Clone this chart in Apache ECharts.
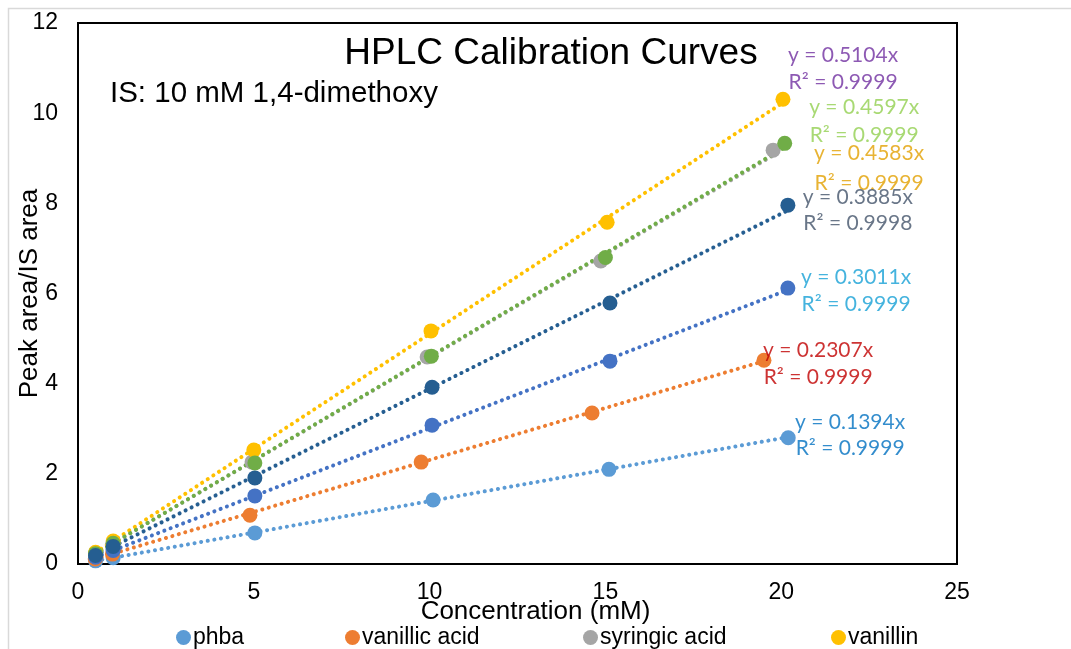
<!DOCTYPE html>
<html>
<head>
<meta charset="utf-8">
<script src="https://cdn.jsdelivr.net/npm/echarts@6/dist/echarts.min.js"></script>
<style>html,body{margin:0;padding:0;background:#fff}#c{width:1071px;height:649px}</style>
</head>
<body>
<div id="c"></div>
<script>
// ---- data ----
const seriesNames = ['phba', 'vanillic acid', 'syringic acid', 'vanillin', 'Series5', 'Series6', 'Series7'];
const phbaX = [0.5, 1, 5.03, 10.1, 15.1, 20.2];
const phbaY = [0.07, 0.14, 0.69, 1.42, 2.1, 2.8];
const vanillicX = [0.49, 0.98, 4.89, 9.76, 14.62, 19.51];
const vanillicY = [0.11, 0.22, 1.08, 2.26, 3.35, 4.52];
const syringicX = [0.5, 0.99, 4.95, 9.93, 14.87, 19.77];
const syringicY = [0.23, 0.46, 2.26, 4.59, 6.72, 9.18];
const vanillinX = [0.5, 1, 5.0, 10.04, 15.05, 20.05];
const vanillinY = [0.26, 0.51, 2.53, 5.17, 7.58, 10.31];
const s5X = [0.5, 1, 5.03, 10.07, 15.13, 20.19];
const s5Y = [0.15, 0.3, 1.51, 3.08, 4.5, 6.12];
const s6X = [0.5, 1, 5.03, 10.05, 15.0, 20.1];
const s6Y = [0.23, 0.46, 2.24, 4.61, 6.8, 9.33];
const s7X = [0.5, 1, 5.03, 10.07, 15.13, 20.19];
const s7Y = [0.19, 0.39, 1.91, 3.92, 5.79, 7.96];
const trendSlopes = [0.1394, 0.2307, 0.4583, 0.5104, 0.3011, 0.4597, 0.3885];
const eqLabels = ['y = 0.5104x', 'y = 0.4597x', 'y = 0.4583x', 'y = 0.3885x', 'y = 0.3011x', 'y = 0.2307x', 'y = 0.1394x'];
const r2Labels = ['R² = 0.9999', 'R² = 0.9999', 'R² = 0.9999', 'R² = 0.9998', 'R² = 0.9999', 'R² = 0.9999', 'R² = 0.9999'];
const xTicks = [0, 5, 10, 15, 20, 25];
const yTicks = [0, 2, 4, 6, 8, 10, 12];

// ---- styling / layout ----
const colors = ['#5B9BD5', '#ED7D31', '#A5A5A5', '#FFC000', '#4472C4', '#70AD47', '#255E91'];
const labelColors = ['#7030A0', '#92D050', '#E2A000', '#44546A', '#17A0D6', '#C00000', '#0070C0'];
// annotation anchor positions in data coords: [x, yEq, yR2]
const labelPos = [[21.76, 11.28, 10.68], [22.36, 10.13, 9.51], [22.5, 9.11, 8.45], [22.18, 8.14, 7.56],
                  [22.13, 6.36, 5.76], [21.05, 4.74, 4.15], [21.96, 3.15, 2.57]];
const legendLeft = [171, 340, 578, 826];

const xs = [phbaX, vanillicX, syringicX, vanillinX, s5X, s6X, s7X];
const ys = [phbaY, vanillicY, syringicY, vanillinY, s5Y, s6Y, s7Y];

const series = [];
// trendlines
xs.forEach((x, i) => {
  const x0 = Math.min(...x), x1 = Math.max(...x);
  series.push({
    name: seriesNames[i] + ' trend', type: 'line', silent: true, showSymbol: false, symbol: 'none', z: 1,
    data: [[x0, trendSlopes[i] * x0], [x1, trendSlopes[i] * x1]],
    lineStyle: { color: colors[i], width: 4, type: [0.1, 6.6], cap: 'round' },
    animation: false
  });
});
// points
xs.forEach((x, i) => {
  series.push({
    name: seriesNames[i], type: 'scatter', symbol: 'circle', symbolSize: 15, z: 3,
    itemStyle: { color: colors[i], opacity: 1 },
    data: x.map((v, k) => [v, ys[i][k]]),
    animation: false
  });
});
// equation labels
const annData = [];
eqLabels.forEach((t, i) => {
  annData.push({ value: [labelPos[i][0], labelPos[i][1]], name: t, label: { color: labelColors[i] } });
  annData.push({ value: [labelPos[i][0], labelPos[i][2]], name: r2Labels[i], label: { color: labelColors[i] } });
});
series.push({
  name: 'annotations', type: 'scatter', symbolSize: 1, silent: true, z: 5,
  itemStyle: { color: 'rgba(0,0,0,0)' },
  label: { show: true, position: 'inside', formatter: p => p.name, fontFamily: 'Lato', fontSize: 21 },
  data: annData, animation: false
});

const legends = seriesNames.slice(0, 4).map((n, i) => ({
  data: [{ name: n, icon: 'circle' }], left: legendLeft[i], top: 621, itemWidth: 15, itemHeight: 15, itemGap: 0,
  textStyle: { fontFamily: 'Liberation Sans', fontSize: 23, color: '#000', padding: [0, 0, 0, -3] }, selectedMode: false
}));

const chart = echarts.init(document.getElementById('c'));
chart.setOption({
  animation: false,
  backgroundColor: '#fff',
  color: colors,
  graphic: [{ type: 'rect', shape: { x: 8.5, y: 8.5, width: 1200, height: 800 }, style: { fill: 'none', stroke: '#d9d9d9', lineWidth: 1.5 }, z: -1 }],
  title: [
    { text: 'HPLC Calibration Curves', left: 546, textAlign: 'center', top: 30, textStyle: { fontFamily: 'Liberation Sans', fontSize: 37, fontWeight: 'normal', color: '#000' } },
    { text: 'IS: 10 mM 1,4-dimethoxy', left: 105, top: 74, textStyle: { fontFamily: 'Liberation Sans', fontSize: 29.5, fontWeight: 'normal', color: '#000' } }
  ],
  legend: legends,
  grid: { left: 78, right: 114, top: 23, bottom: 85, show: true, borderColor: '#000', borderWidth: 2, containLabel: false, outerBoundsMode: 'none' },
  xAxis: {
    type: 'value', min: xTicks[0], max: xTicks[xTicks.length - 1], interval: 5,
    name: 'Concentration (mM)', nameLocation: 'middle', nameGap: 35, nameMoveOverlap: false,
    nameTextStyle: { fontFamily: 'Liberation Sans', fontSize: 26, color: '#000', padding: [0, 0, 0, 36] },
    axisLine: { show: false }, axisTick: { show: false }, splitLine: { show: false },
    axisLabel: { fontFamily: 'Liberation Sans', fontSize: 23, color: '#000', margin: 17 }
  },
  yAxis: {
    type: 'value', min: yTicks[0], max: yTicks[yTicks.length - 1], interval: 2,
    name: 'Peak area/IS area', nameLocation: 'middle', nameGap: 35, nameMoveOverlap: false,
    nameTextStyle: { fontFamily: 'Liberation Sans', fontSize: 26, color: '#000' },
    axisLine: { show: false }, axisTick: { show: false }, splitLine: { show: false },
    axisLabel: { fontFamily: 'Liberation Sans', fontSize: 23, color: '#000', margin: 20 }
  },
  series: series
});
</script>
</body>
</html>
